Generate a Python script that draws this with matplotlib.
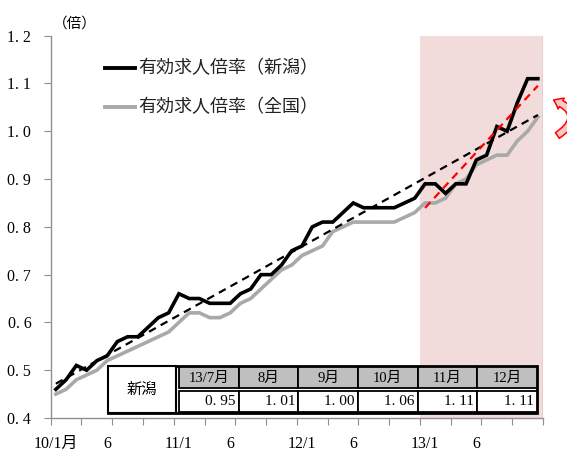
import numpy as np
import matplotlib
matplotlib.use("Agg")
from matplotlib import pyplot as plt
from matplotlib.patches import Rectangle, FancyArrowPatch
from matplotlib.lines import Line2D

# monthly ratios, 2010/1 .. 2013/12
niigata = [0.46, 0.48, 0.51, 0.50, 0.52, 0.53, 0.56, 0.57, 0.57, 0.59, 0.61, 0.62,
           0.66, 0.65, 0.65, 0.64, 0.64, 0.64, 0.66, 0.67, 0.70, 0.70, 0.72, 0.75,
           0.76, 0.80, 0.81, 0.81, 0.83, 0.85, 0.84, 0.84, 0.84, 0.84, 0.85, 0.86,
           0.89, 0.89, 0.87, 0.89, 0.89, 0.94, 0.95, 1.01, 1.00, 1.06, 1.11, 1.11]
national = [0.45, 0.46, 0.48, 0.49, 0.50, 0.52, 0.53, 0.54, 0.55, 0.56, 0.57, 0.58,
            0.60, 0.62, 0.62, 0.61, 0.61, 0.62, 0.64, 0.65, 0.67, 0.69, 0.71, 0.72,
            0.74, 0.75, 0.76, 0.79, 0.80, 0.81, 0.81, 0.81, 0.81, 0.81, 0.82, 0.83,
            0.85, 0.85, 0.86, 0.89, 0.90, 0.93, 0.94, 0.95, 0.95, 0.98, 1.00, 1.03]

label_months = [0, 5, 12, 17, 24, 29, 36, 41]
x_labels = ["10/1月", "6", "11/1", "6", "12/1", "6", "13/1", "6"]
yticks = [0.4, 0.5, 0.6, 0.7, 0.8, 0.9, 1.0, 1.1, 1.2]

table_head = ["13/7月", "8月", "9月", "10月", "11月", "12月"]
table_vals = [0.95, 1.01, 1.00, 1.06, 1.11, 1.11]

legend_names = ["有効求人倍率（新潟）", "有効求人倍率（全国）"]

JP = ["Noto Sans CJK JP", "DejaVu Sans"]
NUM = ["Liberation Serif", "Noto Sans CJK JP"]

W, H = 567, 453


def fx(x):
    return x / W


def fy(y):
    return 1 - y / H


fig = plt.figure(figsize=(W / 100, H / 100), dpi=100)
ax = fig.add_axes([fx(50.7), fy(418), fx(543) - fx(50.7), fy(35.7) - fy(418)])

n = len(niigata)
x = np.arange(n) + 0.5

# 2013 highlighted
ax.axvspan(36, 48, color="#F2DCDB", zorder=0, lw=0)
ax.axvline(48, color="#A0A0A0", lw=1.0, zorder=1)

ax.plot(x, national, color="#A9A9A9", lw=2.6, zorder=3, solid_joinstyle="miter")
ax.plot(x, niigata, color="black", lw=2.6, zorder=4, solid_joinstyle="miter")

# linear trends: whole period and 2013 only
k, b = np.polyfit(x, niigata, 1)
ax.plot([x[0], x[-1]], [k * x[0] + b, k * x[-1] + b], color="black", lw=1.6,
        ls=(0, (3.5, 2.5)), zorder=5)
x13 = x[36:]
k2, b2 = np.polyfit(x13, niigata[36:], 1)
ax.plot([x13[0], x13[-1]], [k2 * x13[0] + b2, k2 * x13[-1] + b2], color="red",
        lw=1.6, ls=(0, (3.5, 2.5)), zorder=5)

ax.set_xlim(0, 48)
ax.set_ylim(0.4, 1.2)
for s in ["top", "right"]:
    ax.spines[s].set_visible(False)
for s in ["left", "bottom"]:
    ax.spines[s].set_color("#909090")
    ax.spines[s].set_linewidth(1.0)

ax.set_yticks(yticks)
ax.set_yticklabels([f"{v:.1f}".replace(".", ". ") for v in yticks],
                   fontfamily=NUM, fontsize=11.5)
ax.tick_params(axis="y", direction="out", length=5, color="#909090", pad=9)

ax.set_xticks(np.arange(0, 49, 3))
ax.set_xticklabels([])
ax.tick_params(axis="x", which="major", direction="out", length=5, color="#909090")
ax.set_xticks([m + 0.5 for m in label_months], minor=True)
ax.set_xticklabels(x_labels, minor=True, fontfamily=NUM, fontsize=11.5)
ax.tick_params(axis="x", which="minor", length=0, pad=13)

fig.text(fx(53), fy(24), "（倍）", family=JP, fontsize=10.5, va="center", ha="left")

# legend
for yy, col, name in [(68, "black", legend_names[0]), (107, "#A9A9A9", legend_names[1])]:
    fig.add_artist(Line2D([fx(105), fx(135)], [fy(yy), fy(yy)], color=col, lw=2.8))
    fig.text(fx(138), fy(yy), name, family=JP, fontsize=13, va="center", ha="left",
             color="#222222")

# value table
tf = fig.transFigure


def box(x0, y0, x1, y1, fc, lw=1.2):
    fig.add_artist(Rectangle((fx(x0), fy(y1)), fx(x1) - fx(x0), fy(y0) - fy(y1),
                             transform=tf, fc=fc, ec="black", lw=lw, zorder=10))


box(108, 366, 537, 413, "white", lw=2.0)
box(108, 366, 176, 413, "white", lw=1.5)
fig.text(fx(142), fy(389.5), "新潟", family=JP, fontsize=11, ha="center",
         va="center", zorder=11)
col_w = (537 - 179) / len(table_head)
for i, (hd, v) in enumerate(zip(table_head, table_vals)):
    c0 = 179 + i * col_w
    c1 = c0 + col_w
    box(c0, 367, c1, 388, "#BFBFBF", lw=1.3)
    box(c0, 391, c1, 412, "white", lw=1.3)
    fig.text(fx((c0 + c1) / 2), fy(378), hd, family=NUM, fontsize=10.5,
             ha="center", va="center", zorder=11)
    fig.text(fx(c1 - 3), fy(401.5), f"{v:.2f}".replace(".", ". "), family=NUM,
             fontsize=11, ha="right", va="center", zorder=11)

# curved arrow at the right edge
arr = FancyArrowPatch((fx(555), fy(137)), (fx(551), fy(99)), transform=tf,
                      connectionstyle="arc3,rad=1.0",
                      arrowstyle="simple,head_width=9,head_length=6,tail_width=5",
                      fc="#F6C9C6", ec="red", lw=1.1, zorder=10)
fig.add_artist(arr)

plt.savefig("out.png", dpi=100)
